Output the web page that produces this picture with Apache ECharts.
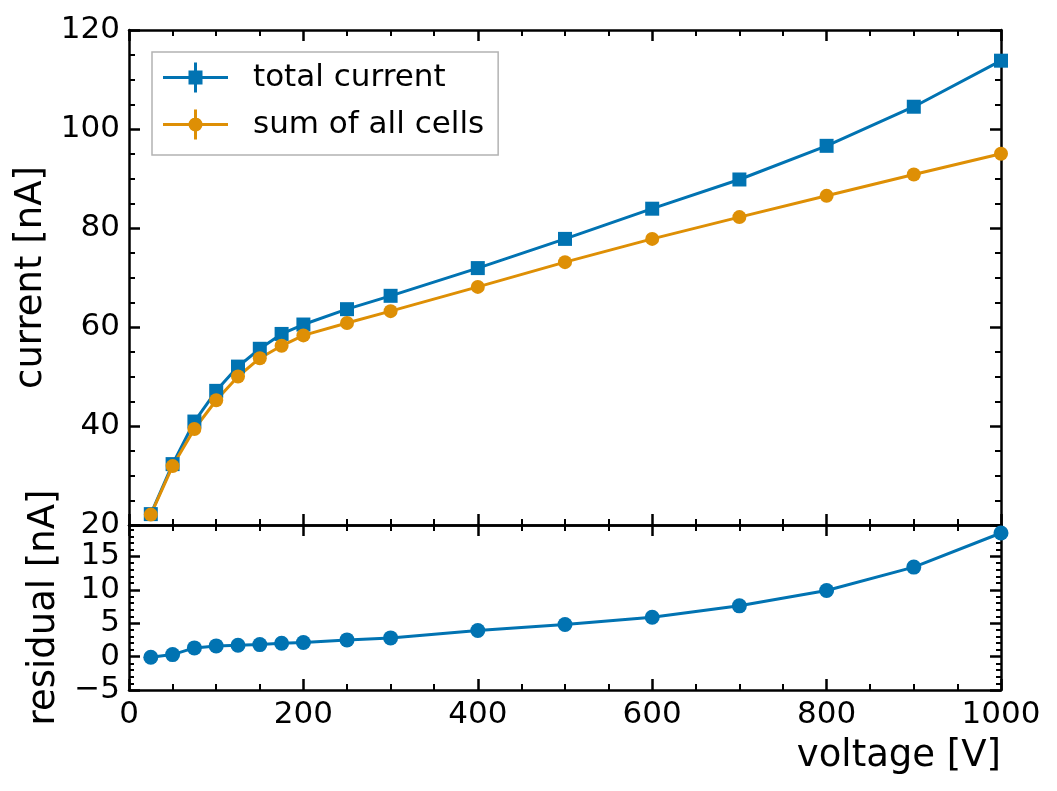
<!DOCTYPE html>
<html>
<head>
    <meta charset="utf-8">
    <title>current vs voltage</title>
    <script src="https://cdn.jsdelivr.net/npm/echarts@6/dist/echarts.min.js"></script>
</head>
<body style="margin:0">
    <div id="main" style="width: 1057px;height:791px;"></div>
    <script type="text/javascript">
        // data
        var voltage = [25, 50, 75, 100, 125, 150, 175, 200, 250, 300, 400, 500, 600, 700, 800, 900, 1000];
        var totalCurrent = [22.2, 32.3, 40.9, 47.1, 52.0, 55.6, 58.6, 60.5, 63.6, 66.3, 71.9, 77.8, 83.9, 89.8, 96.6, 104.5, 113.8];
        var sumCells = [22.1, 31.9, 39.4, 45.2, 50.0, 53.7, 56.2, 58.3, 60.8, 63.2, 68.1, 73.1, 77.8, 82.2, 86.5, 90.8, 95.0];
        var residual = [-0.1, 0.3, 1.3, 1.6, 1.7, 1.8, 2.0, 2.1, 2.5, 2.8, 3.9, 4.8, 5.9, 7.6, 9.9, 13.4, 18.5];

        var blue = '#0173b2';
        var orange = '#de8f05';
        var font = 'DejaVu Sans';

        function pairs(ys) {
            return voltage.map(function (v, i) { return [v, ys[i]]; });
        }
        function minus(v) {
            return v < 0 ? '\u2212' + Math.abs(v) : '' + v;
        }

        // one axis with inward ticks, labels optional
        function axis(gridIndex, position, min, max, interval, minorSplit, showLabel) {
            return {
                type: 'value',
                gridIndex: gridIndex,
                position: position,
                min: min,
                max: max,
                interval: interval,
                splitLine: { show: false },
                axisLine: { show: true, onZero: false, lineStyle: { color: '#000', width: 2.5 } },
                axisTick: { show: true, inside: true, length: 11, lineStyle: { color: '#000', width: 2.5 } },
                minorTick: { show: true, splitNumber: minorSplit, length: 6, lineStyle: { color: '#000', width: 2 } },
                axisLabel: {
                    show: showLabel,
                    fontFamily: font,
                    fontSize: 31,
                    color: '#000',
                    margin: 9,
                    formatter: function (v) {
                        return (v % interval === 0) ? minus(v) : '';
                    }
                }
            };
        }

        var xAxes = [
            axis(0, 'bottom', 0, 1000, 200, 4, false),
            axis(0, 'top', 0, 1000, 200, 4, false),
            axis(1, 'bottom', 0, 1000, 200, 4, true),
            axis(1, 'top', 0, 1000, 200, 4, false)
        ];
        xAxes[2].name = 'voltage [V]';
        xAxes[2].nameLocation = 'end';
        xAxes[2].nameGap = 0;
        xAxes[2].nameMoveOverlap = false;
        xAxes[2].nameTextStyle = { fontFamily: font, fontSize: 37, color: '#000', align: 'right', verticalAlign: 'top', padding: [48, 0, 0, 0] };

        var yAxes = [
            axis(0, 'left', 20, 120, 20, 4, true),
            axis(0, 'right', 20, 120, 20, 4, false),
            axis(1, 'left', -5, 19.7, 5, 5, true),
            axis(1, 'right', -5, 19.7, 5, 5, false)
        ];
        yAxes[2].minorTick.length = 5;
        yAxes[3].minorTick.length = 5;
        yAxes[0].name = 'current [nA]';
        yAxes[0].nameLocation = 'middle';
        yAxes[0].nameGap = 78;
        yAxes[0].nameTextStyle = { fontFamily: font, fontSize: 37, color: '#000' };
        yAxes[2].name = 'residual [nA]';
        yAxes[2].nameLocation = 'middle';
        yAxes[2].nameGap = 66;
        yAxes[2].nameTextStyle = { fontFamily: font, fontSize: 37, color: '#000' };

        // legend icons: line + error bar + marker
        var squareIcon = 'path://M0 13.5H65V16.5H0Z M31 0H34V30H31Z M25.5 8H39.5V22H25.5Z';
        var circleIcon = 'path://M0 13.5H65V16.5H0Z M31 0H34V30H31Z M25.5 15A7 7 0 1 1 39.5 15A7 7 0 1 1 25.5 15Z';

        var option = {
            animation: false,
            textStyle: { fontFamily: font },
            grid: [
                { left: 129, right: 56, top: 30, height: 495 },
                { left: 129, right: 56, top: 525, height: 165 }
            ],
            xAxis: xAxes,
            yAxis: yAxes,
            legend: {
                left: 152,
                top: 52,
                orient: 'vertical',
                padding: [10, 14, 15, 11],
                itemGap: 16,
                itemWidth: 65,
                itemHeight: 30,
                borderColor: '#b3b3b3',
                borderWidth: 1.5,
                backgroundColor: '#fff',
                itemStyle: { borderWidth: 0 },
                textStyle: { fontFamily: font, fontSize: 31, color: '#000', lineHeight: 30, padding: [0, 0, 0, 20] },
                data: [
                    { name: 'total current', icon: squareIcon },
                    { name: 'sum of all cells', icon: circleIcon }
                ]
            },
            series: [
                {
                    name: 'total current',
                    type: 'line',
                    xAxisIndex: 0,
                    yAxisIndex: 0,
                    symbol: 'rect',
                    symbolSize: 14,
                    color: blue,
                    lineStyle: { width: 3 },
                    data: pairs(totalCurrent)
                },
                {
                    name: 'sum of all cells',
                    type: 'line',
                    xAxisIndex: 0,
                    yAxisIndex: 0,
                    symbol: 'circle',
                    symbolSize: 14,
                    color: orange,
                    lineStyle: { width: 3 },
                    data: pairs(sumCells)
                },
                {
                    name: 'residual',
                    type: 'line',
                    xAxisIndex: 2,
                    yAxisIndex: 2,
                    symbol: 'circle',
                    symbolSize: 15,
                    color: blue,
                    lineStyle: { width: 3 },
                    data: pairs(residual)
                }
            ]
        };

        var myChart = echarts.init(document.getElementById('main'));
        myChart.setOption(option);
    </script>
</body>
</html>
